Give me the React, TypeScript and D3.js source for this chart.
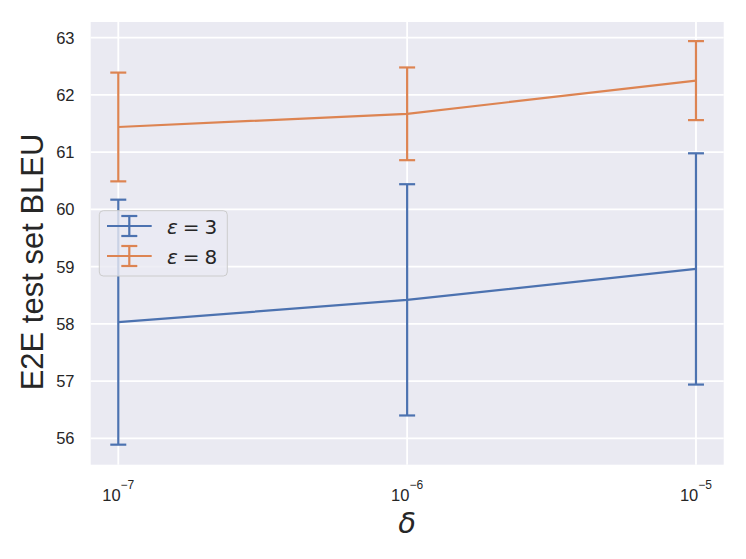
import React, { useRef, useEffect } from "react";
import * as d3 from "d3";

// delta values on the x axis (log scale)
const deltas = [1e-7, 1e-6, 1e-5];
const deltaExponents = [-7, -6, -5];

// epsilon = 3 series (mean BLEU and error half-width)
const eps3Mean = [58.03, 58.42, 58.96];
const eps3Err = [2.14, 2.02, 2.02];

// epsilon = 8 series
const eps8Mean = [61.44, 61.67, 62.25];
const eps8Err = [0.95, 0.81, 0.69];

const yTicks = [56, 57, 58, 59, 60, 61, 62, 63];

const seriesNames = ["3", "8"];
const seriesColors = ["#4c72b0", "#dd8452"];

const W = 746;
const H = 559;

const App: React.FC = () => {
  const ref = useRef<SVGSVGElement | null>(null);

  useEffect(() => {
    const svg = d3.select(ref.current);
    svg.selectAll("*").remove();

    const left = 90.7;
    const right = 723.7;
    const top = 22;
    const bottom = 464.7;

    const x = d3
      .scaleLog()
      .domain([Math.pow(10, -7.0955), Math.pow(10, -4.904)])
      .range([left, right]);

    const y = d3.scaleLinear().domain([55.54, 63.274]).range([bottom, top]);

    const sans = "'Liberation Sans', Arial, sans-serif";
    const dejavu = "'DejaVu Sans', sans-serif";

    // background
    svg
      .append("rect")
      .attr("x", left)
      .attr("y", top)
      .attr("width", right - left)
      .attr("height", bottom - top)
      .attr("fill", "#eaeaf2");

    // grid
    svg
      .append("g")
      .selectAll("line")
      .data(yTicks)
      .join("line")
      .attr("x1", left)
      .attr("x2", right)
      .attr("y1", (d) => y(d))
      .attr("y2", (d) => y(d))
      .attr("stroke", "#fff")
      .attr("stroke-width", 1.8);

    svg
      .append("g")
      .selectAll("line")
      .data(deltas)
      .join("line")
      .attr("x1", (d) => x(d))
      .attr("x2", (d) => x(d))
      .attr("y1", top)
      .attr("y2", bottom)
      .attr("stroke", "#fff")
      .attr("stroke-width", 1.8);

    // y tick labels
    svg
      .append("g")
      .selectAll("text")
      .data(yTicks)
      .join("text")
      .attr("x", 74.5)
      .attr("y", (d) => y(d))
      .attr("dy", "0.36em")
      .attr("text-anchor", "end")
      .style("font-family", sans)
      .style("font-size", "16.5px")
      .attr("fill", "#262626")
      .text((d) => d);

    // x tick labels 10^k
    const xt = svg
      .append("g")
      .selectAll("text")
      .data(deltas)
      .join("text")
      .attr("x", (d) => x(d))
      .attr("y", 501)
      .attr("text-anchor", "middle")
      .style("font-family", sans)
      .attr("fill", "#262626");
    xt.append("tspan").style("font-size", "16.5px").text("10");
    xt.append("tspan")
      .attr("dy", -12.4)
      .style("font-size", "12px")
      .text((d, i) => "\u2212" + Math.abs(deltaExponents[i]));

    // axis labels
    svg
      .append("text")
      .attr("transform", `translate(42.7,${(126 + 398) / 2}) rotate(-90)`)
      .attr("text-anchor", "middle")
      .style("font-family", sans)
      .style("font-size", "31px")
      .attr("fill", "#262626")
      .text("E2E test set BLEU");

    svg
      .append("text")
      .attr("x", x(1e-6))
      .attr("y", 533)
      .attr("text-anchor", "middle")
      .style("font-family", dejavu)
      .style("font-style", "italic")
      .style("font-size", "29px")
      .attr("fill", "#262626")
      .text("\u03b4");

    // series
    const means = [eps3Mean, eps8Mean];
    const errs = [eps3Err, eps8Err];
    const capW = 8;
    const lw = 2.2;

    means.forEach((m, si) => {
      const color = seriesColors[si];
      const pts = deltas.map((d, i) => ({ d, m: m[i], e: errs[si][i] }));
      const g = svg.append("g");

      const line = d3
        .line<{ d: number; m: number }>()
        .x((p) => x(p.d))
        .y((p) => y(p.m));

      g.append("path")
        .datum(pts)
        .attr("fill", "none")
        .attr("stroke", color)
        .attr("stroke-width", lw)
        .attr("d", line);

      g.selectAll("line.v")
        .data(pts)
        .join("line")
        .attr("x1", (p) => x(p.d))
        .attr("x2", (p) => x(p.d))
        .attr("y1", (p) => y(p.m - p.e))
        .attr("y2", (p) => y(p.m + p.e))
        .attr("stroke", color)
        .attr("stroke-width", lw);

      [-1, 1].forEach((s) => {
        g.append("g")
          .selectAll("line")
          .data(pts)
          .join("line")
          .attr("x1", (p) => x(p.d) - capW)
          .attr("x2", (p) => x(p.d) + capW)
          .attr("y1", (p) => y(p.m + s * p.e))
          .attr("y2", (p) => y(p.m + s * p.e))
          .attr("stroke", color)
          .attr("stroke-width", lw);
      });
    });

    // legend
    const lg = svg.append("g");
    lg.append("rect")
      .attr("x", 99.3)
      .attr("y", 210.7)
      .attr("width", 128)
      .attr("height", 65.3)
      .attr("rx", 4)
      .attr("fill", "#eaeaf2")
      .attr("fill-opacity", 0.8)
      .attr("stroke", "#cccccc")
      .attr("stroke-width", 1);

    seriesNames.forEach((name, i) => {
      const cy = 226 + i * 30;
      const color = seriesColors[i];
      const cx = 129.3;
      lg.append("line")
        .attr("x1", 107)
        .attr("x2", 151.7)
        .attr("y1", cy)
        .attr("y2", cy)
        .attr("stroke", color)
        .attr("stroke-width", lw);
      lg.append("line")
        .attr("x1", cx)
        .attr("x2", cx)
        .attr("y1", cy - 10)
        .attr("y2", cy + 10)
        .attr("stroke", color)
        .attr("stroke-width", lw);
      [-10, 10].forEach((o) => {
        lg.append("line")
          .attr("x1", cx - capW)
          .attr("x2", cx + capW)
          .attr("y1", cy + o)
          .attr("y2", cy + o)
          .attr("stroke", color)
          .attr("stroke-width", lw);
      });
      const t = lg
        .append("text")
        .attr("x", 167)
        .attr("y", cy + 7.5)
        .style("font-family", dejavu)
        .style("font-size", "20px")
        .attr("fill", "#262626");
      t.append("tspan").style("font-style", "italic").text("\u03b5");
      t.append("tspan").attr("dx", 5).text("=");
      t.append("tspan").attr("dx", 5).text(name);
    });
  }, []);

  return (
    <svg
      ref={ref}
      width={W}
      height={H}
      style={{ position: "absolute", left: 0, top: 0, background: "#fff" }}
    />
  );
};

export default App;
